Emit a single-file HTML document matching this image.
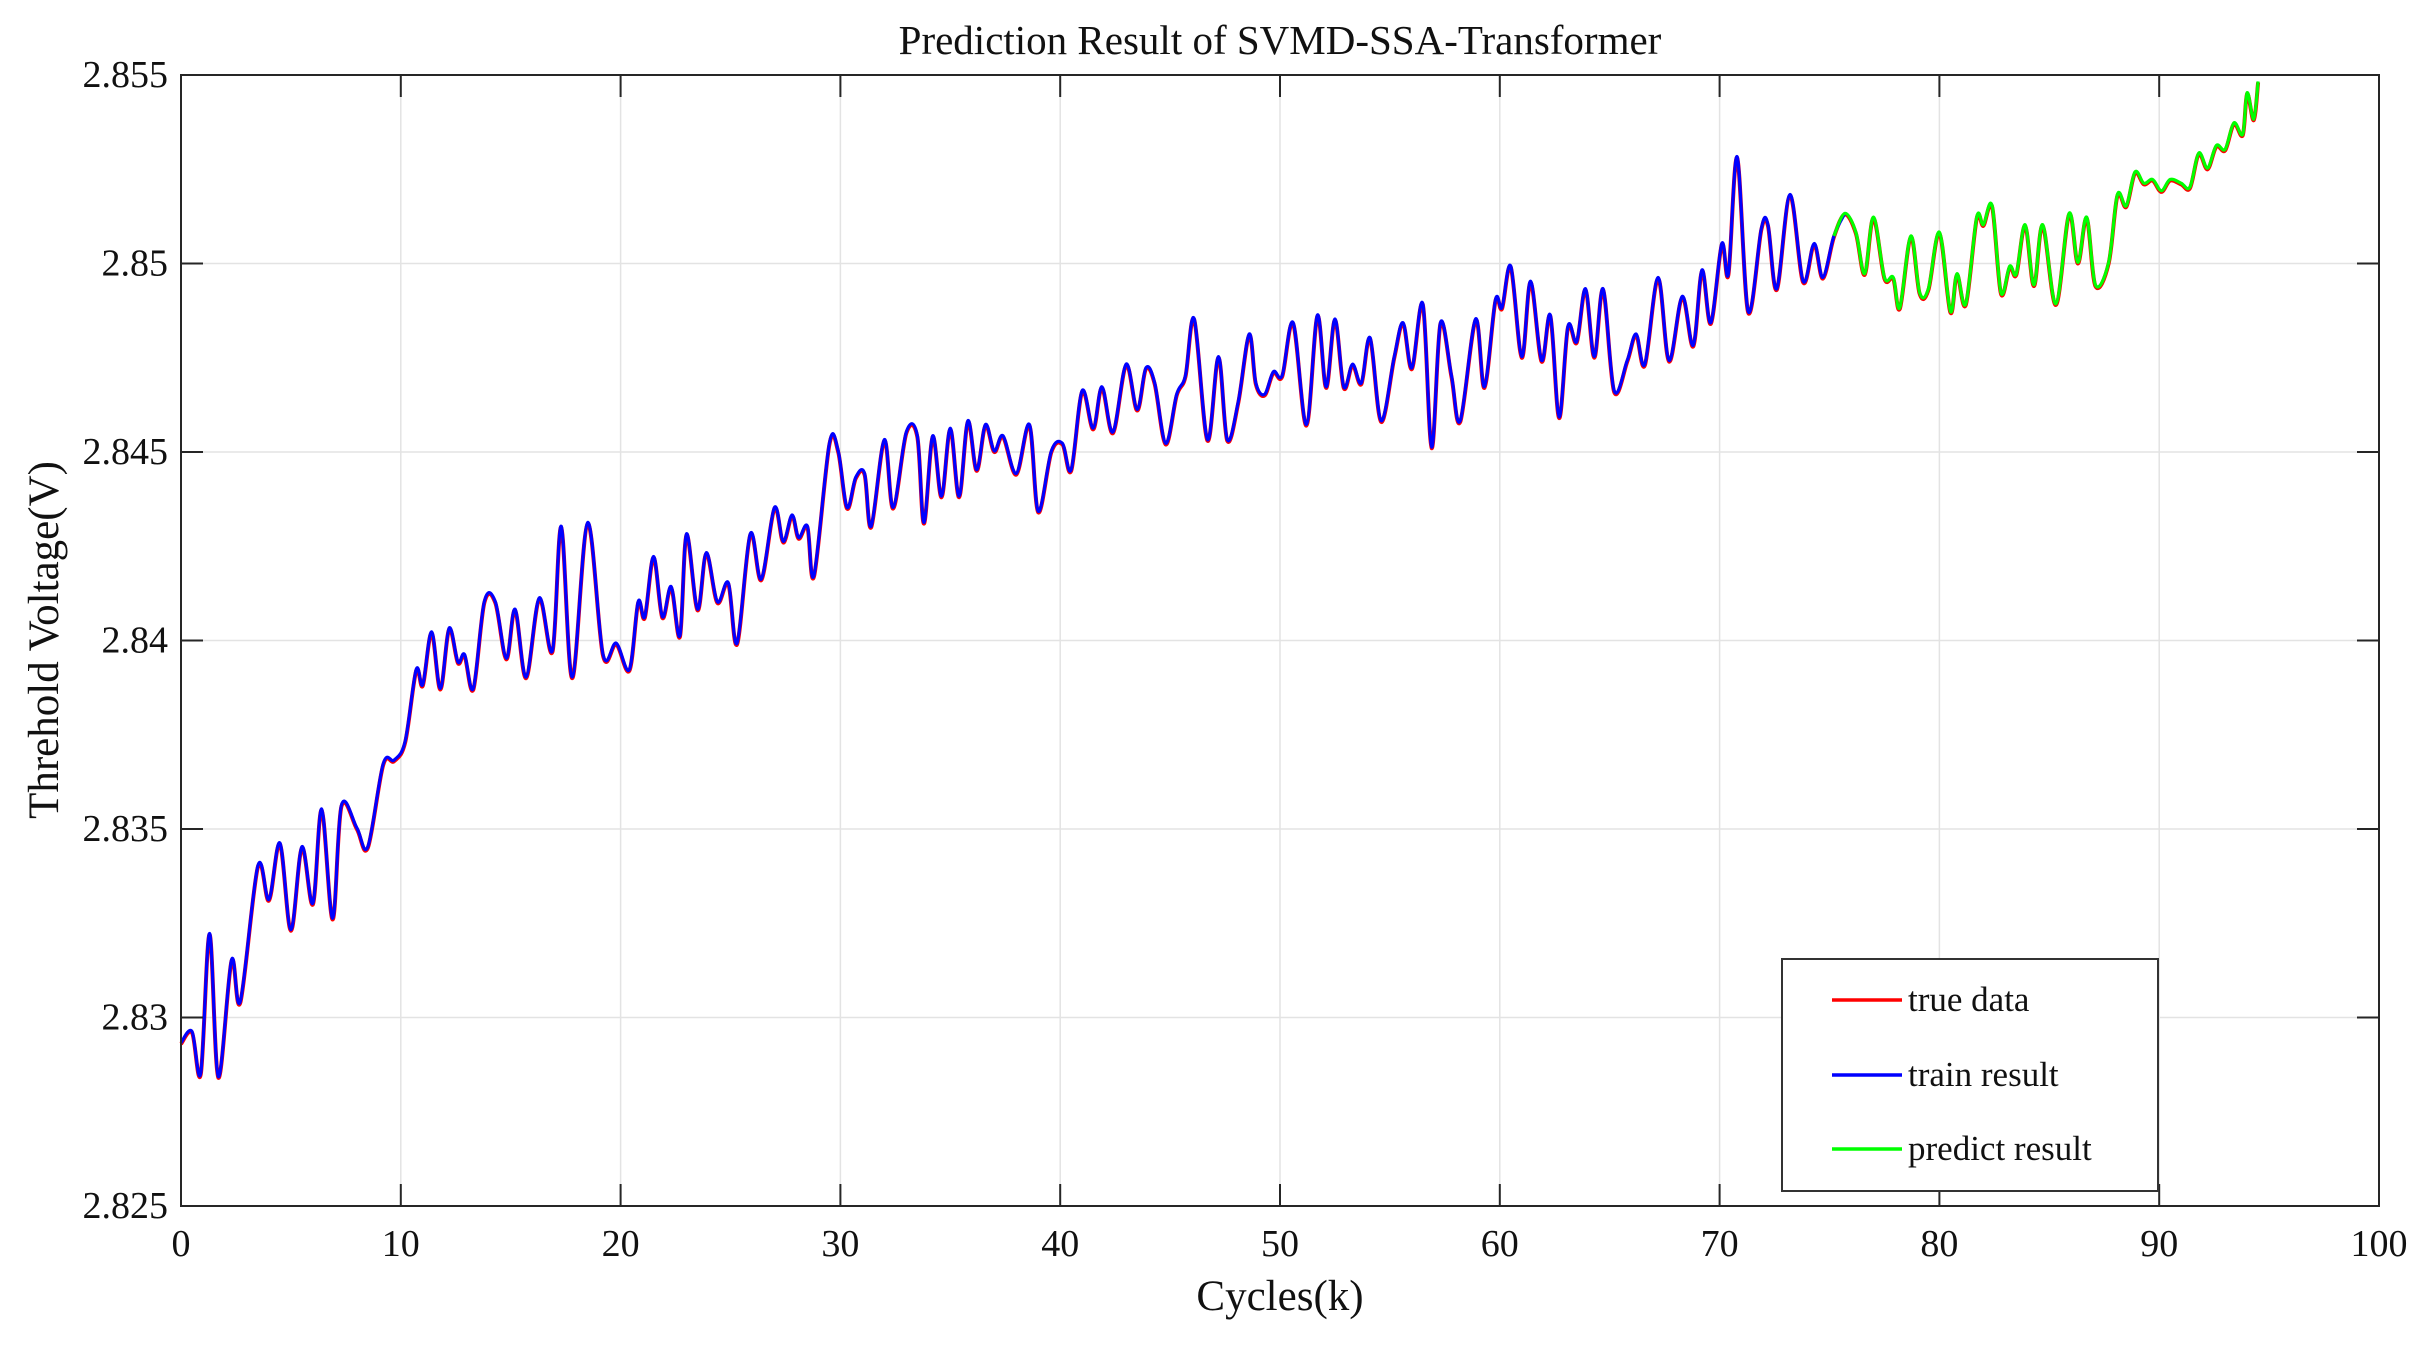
<!DOCTYPE html>
<html><head><meta charset="utf-8"><style>
body{margin:0;background:#fff}
svg{display:block;font-family:"Liberation Serif",serif}
</style></head><body>
<svg id="chart" width="2425" height="1348" viewBox="0 0 2425 1348">
<rect x="0" y="0" width="2425" height="1348" fill="#fff"/>
<g id="grid"></g>
<g id="series"></g>
<rect x="181" y="75" width="2198" height="1131" fill="none" stroke="#262626" stroke-width="2"/>
<g id="ticks"></g>
<text x="1280" y="54" font-size="41" text-anchor="middle" fill="#111">Prediction Result of SVMD-SSA-Transformer</text>
<text x="1280" y="1310" font-size="43" text-anchor="middle" fill="#111">Cycles(k)</text>
<text x="0" y="0" font-size="43" text-anchor="middle" fill="#111" transform="translate(58,640) rotate(-90)">Threhold Voltage(V)</text>
<g>
<rect x="1782" y="959" width="376" height="232" fill="#fff" stroke="#333" stroke-width="2"/>
<line x1="1832" y1="1000" x2="1902" y2="1000" stroke="#ff0000" stroke-width="3.5"/>
<text x="1908" y="1011" font-size="35" fill="#111">true data</text>
<line x1="1832" y1="1075" x2="1902" y2="1075" stroke="#0000ff" stroke-width="3.5"/>
<text x="1908" y="1086" font-size="35" fill="#111">train result</text>
<line x1="1832" y1="1149" x2="1902" y2="1149" stroke="#00ff00" stroke-width="3.5"/>
<text x="1908" y="1160" font-size="35" fill="#111">predict result</text>
</g>
</svg>
<script>
const xTicks=[0,10,20,30,40,50,60,70,80,90,100];
const yTicks=[2.825,2.83,2.835,2.84,2.845,2.85,2.855];
const yTickLabels=["2.825","2.83","2.835","2.84","2.845","2.85","2.855"];
const cycles=[0,0.5,0.9,1.3,1.7,2.3,2.7,3.5,4.0,4.5,5.0,5.5,6.0,6.4,6.9,7.3,8.0,8.5,9.2,9.7,10.2,10.7,11.0,11.4,11.8,12.2,12.6,12.9,13.3,13.8,14.3,14.8,15.2,15.7,16.3,16.9,17.3,17.8,18.5,19.2,19.8,20.4,20.8,21.1,21.5,21.9,22.3,22.7,23.0,23.5,23.9,24.4,24.9,25.3,25.9,26.4,27.0,27.4,27.8,28.1,28.5,28.8,29.5,29.9,30.3,30.7,31.1,31.4,32.0,32.4,33.0,33.5,33.8,34.2,34.6,35.0,35.4,35.8,36.2,36.6,37.0,37.4,38.0,38.6,39.0,39.6,40.1,40.5,41.0,41.5,41.9,42.4,43.0,43.5,43.9,44.3,44.8,45.3,45.7,46.1,46.7,47.2,47.6,48.1,48.6,48.9,49.3,49.7,50.1,50.6,51.2,51.7,52.1,52.5,52.9,53.3,53.7,54.1,54.6,55.2,55.6,56.0,56.5,56.9,57.3,57.8,58.2,58.9,59.3,59.8,60.1,60.5,61.0,61.4,61.9,62.3,62.7,63.1,63.5,63.9,64.3,64.7,65.2,65.8,66.2,66.6,67.2,67.7,68.3,68.8,69.2,69.6,70.1,70.4,70.8,71.3,71.9,72.2,72.6,73.2,73.8,74.3,74.7,75.2,75.7,76.2,76.6,77.0,77.5,77.9,78.2,78.7,79.1,79.5,80.0,80.5,80.8,81.2,81.7,82.0,82.4,82.8,83.2,83.5,83.9,84.3,84.7,85.3,85.9,86.3,86.7,87.1,87.7,88.1,88.5,88.9,89.3,89.7,90.1,90.5,91.0,91.4,91.8,92.2,92.6,93.0,93.4,93.8,94.0,94.3,94.5];
const trueData=[2.8293,2.8296,2.8285,2.8322,2.8284,2.8315,2.8304,2.8340,2.8331,2.8346,2.8323,2.8345,2.8330,2.8355,2.8326,2.8356,2.8350,2.8345,2.8367,2.8368,2.8373,2.8392,2.8388,2.8402,2.8387,2.8403,2.8394,2.8396,2.8387,2.8410,2.8410,2.8395,2.8408,2.8390,2.8411,2.8397,2.8430,2.8390,2.8431,2.8396,2.8399,2.8392,2.8410,2.8406,2.8422,2.8406,2.8414,2.8401,2.8428,2.8408,2.8423,2.8410,2.8415,2.8399,2.8428,2.8416,2.8435,2.8426,2.8433,2.8427,2.8430,2.8417,2.8452,2.8450,2.8435,2.8443,2.8444,2.8430,2.8453,2.8435,2.8455,2.8454,2.8431,2.8454,2.8438,2.8456,2.8438,2.8458,2.8445,2.8457,2.8450,2.8454,2.8444,2.8457,2.8434,2.8450,2.8452,2.8445,2.8466,2.8456,2.8467,2.8455,2.8473,2.8461,2.8472,2.8468,2.8452,2.8465,2.8470,2.8485,2.8453,2.8475,2.8453,2.8463,2.8481,2.8468,2.8465,2.8471,2.8470,2.8484,2.8457,2.8486,2.8467,2.8485,2.8467,2.8473,2.8468,2.8480,2.8458,2.8475,2.8484,2.8472,2.8489,2.8451,2.8484,2.8470,2.8458,2.8485,2.8467,2.8490,2.8488,2.8499,2.8475,2.8495,2.8474,2.8486,2.8459,2.8483,2.8479,2.8493,2.8475,2.8493,2.8466,2.8474,2.8481,2.8473,2.8496,2.8474,2.8491,2.8478,2.8498,2.8484,2.8505,2.8497,2.8528,2.8487,2.8509,2.8510,2.8493,2.8518,2.8495,2.8505,2.8496,2.8507,2.8513,2.8508,2.8497,2.8512,2.8496,2.8496,2.8488,2.8507,2.8492,2.8493,2.8508,2.8487,2.8497,2.8489,2.8512,2.8510,2.8515,2.8492,2.8499,2.8497,2.8510,2.8494,2.8510,2.8489,2.8513,2.8500,2.8512,2.8494,2.8500,2.8518,2.8515,2.8524,2.8521,2.8522,2.8519,2.8522,2.8521,2.8520,2.8529,2.8525,2.8531,2.8530,2.8537,2.8534,2.8545,2.8538,2.8548];
const trainEndCycle=75.7;
const predictStartCycle=75.2;

const L=181,R=2379,T=75,B=1206;
const xMin=0,xMax=100,yMin=2.825,yMax=2.855;
const sx=v=>L+(v-xMin)/(xMax-xMin)*(R-L);
const sy=v=>B-(v-yMin)/(yMax-yMin)*(B-T);
const NS="http://www.w3.org/2000/svg";
const grid=document.getElementById('grid'),ticks=document.getElementById('ticks'),series=document.getElementById('series');
function mk(tag,attrs,parent){const e=document.createElementNS(NS,tag);for(const k in attrs)e.setAttribute(k,attrs[k]);parent.appendChild(e);return e;}
xTicks.forEach((t,i)=>{
  const x=sx(t);
  const g=mk('line',{x1:x,y1:T,x2:x,y2:B,stroke:'#e3e3e3','stroke-width':1.5},grid);
  
  
  const a=mk('line',{x1:x,y1:B,x2:x,y2:B-22,stroke:'#262626','stroke-width':2},ticks);
  
  
  const b=mk('line',{x1:x,y1:T,x2:x,y2:T+22,stroke:'#262626','stroke-width':2},ticks);
  
  
  const tx=mk('text',{x:x,y:1256,'font-size':38,'text-anchor':'middle',fill:'#111'},ticks);
  tx.textContent=String(t);
  
  
});
yTicks.forEach((t,i)=>{
  const y=sy(t);
  const g=mk('line',{x1:L,y1:y,x2:R,y2:y,stroke:'#e3e3e3','stroke-width':1.5},grid);
  
  
  const a=mk('line',{x1:L,y1:y,x2:L+22,y2:y,stroke:'#262626','stroke-width':2},ticks);
  
  
  const b=mk('line',{x1:R,y1:y,x2:R-22,y2:y,stroke:'#262626','stroke-width':2},ticks);
  
  
  const tx=mk('text',{x:168,y:y+12,'font-size':38,'text-anchor':'end',fill:'#111'},ticks);
  tx.textContent=yTickLabels[i];
  
  
});
function pathFor(xs,ys){
  const p=xs.map((x,i)=>[sx(x),sy(ys[i])]);
  let d='M'+p[0][0]+','+p[0][1];
  for(let i=0;i<p.length-1;i++){
    const p0=p[i-1]||p[i],p1=p[i],p2=p[i+1],p3=p[i+2]||p[i+1];
    const c1x=p1[0]+(p2[0]-p0[0])/6,c1y=p1[1]+(p2[1]-p0[1])/6;
    const c2x=p2[0]-(p3[0]-p1[0])/6,c2y=p2[1]-(p3[1]-p1[1])/6;
    d+=' C'+c1x+','+c1y+' '+c2x+','+c2y+' '+p2[0]+','+p2[1];
  }
  return d;
}
const trIdx=cycles.map((c,i)=>i).filter(i=>cycles[i]<=trainEndCycle);
const prIdx=cycles.map((c,i)=>i).filter(i=>cycles[i]>=predictStartCycle);
const red=mk('path',{d:pathFor(cycles,trueData),fill:'none',stroke:'#ff0000','stroke-width':4,'stroke-linejoin':'round'},series);


const blue=mk('path',{d:pathFor(trIdx.map(i=>cycles[i]),trIdx.map(i=>trueData[i]+0.00003)),fill:'none',stroke:'#0000ff','stroke-width':3.2,'stroke-linejoin':'round'},series);


const green=mk('path',{d:pathFor(prIdx.map(i=>cycles[i]),prIdx.map(i=>trueData[i]+0.00003)),fill:'none',stroke:'#00ff00','stroke-width':3.2,'stroke-linejoin':'round'},series);


</script>
</body></html>
